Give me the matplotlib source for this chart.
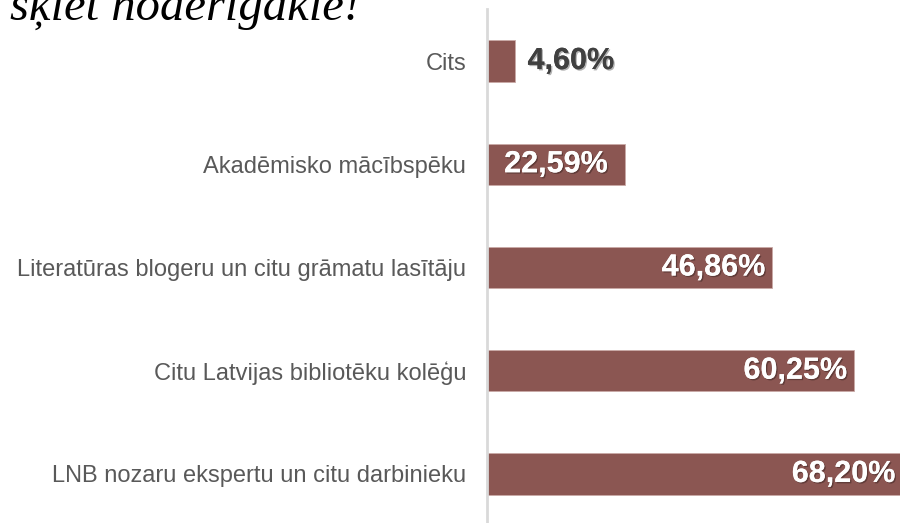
import matplotlib
matplotlib.use("Agg")
import matplotlib.pyplot as plt
import matplotlib.patheffects as pe

categories = ["Cits", "Akadēmisko mācībspēku",
              "Literatūras blogeru un citu grāmatu lasītāju",
              "Citu Latvijas bibliotēku kolēģu",
              "LNB nozaru ekspertu un citu darbinieku"]
values = [4.60, 22.59, 46.86, 60.25, 68.20]
labels = ["4,60%", "22,59%", "46,86%", "60,25%", "68,20%"]
title = "šķiet noderīgākie!"

W, H = 900, 523
fig = plt.figure(figsize=(W / 100, H / 100), dpi=100)
ax_left = 487 / W
ax_top = 1 - 9.4 / H
ax_bottom = 1 - 525.6 / H
ax = fig.add_axes([ax_left, ax_bottom, 1 - ax_left, ax_top - ax_bottom])

bar_color = "#8B5652"
y = list(range(len(categories)))
ax.barh(y, values, height=0.40, color=bar_color, edgecolor="#C9A9A6", linewidth=0.6)
ax.set_ylim(len(categories) - 0.5, -0.5)
ax.set_xlim(0, (W - 487) / 6.09)

ax.set_yticks(y)
ax.set_yticklabels(categories, fontsize=17, color="#595959", family="Liberation Sans")
ax.tick_params(axis="y", length=0, pad=15)
ax.set_xticks([])
for s in ["top", "right", "bottom"]:
    ax.spines[s].set_visible(False)
ax.spines["left"].set_color("#D9D9D9")
ax.spines["left"].set_linewidth(2)

shadow = [pe.withSimplePatchShadow(offset=(1.0, -1.0), shadow_rgbFace="black", alpha=0.3), pe.Normal()]
for yi, v, lab in zip(y, values, labels):
    if v < 10:
        ax.annotate(lab, (v, yi), xytext=(9, 0), textcoords="offset points",
                    ha="left", va="center", fontsize=22, fontweight="bold",
                    color="#404040", family="Liberation Sans", path_effects=shadow)
    elif v < 30:
        ax.annotate(lab, (v / 2, yi), xytext=(0, 0), textcoords="offset points",
                    ha="center", va="center", fontsize=22, fontweight="bold",
                    color="white", family="Liberation Sans", path_effects=shadow)
    else:
        ax.annotate(lab, (v, yi), xytext=(-5, 0), textcoords="offset points",
                    ha="right", va="center", fontsize=22, fontweight="bold",
                    color="white", family="Liberation Sans", path_effects=shadow,
                    annotation_clip=False)

fig.text(10 / W, 1 - 20 / H, title, fontsize=35, style="italic",
         family="Liberation Serif", color="black", ha="left", va="baseline")

fig.savefig("out.png", dpi=100)
